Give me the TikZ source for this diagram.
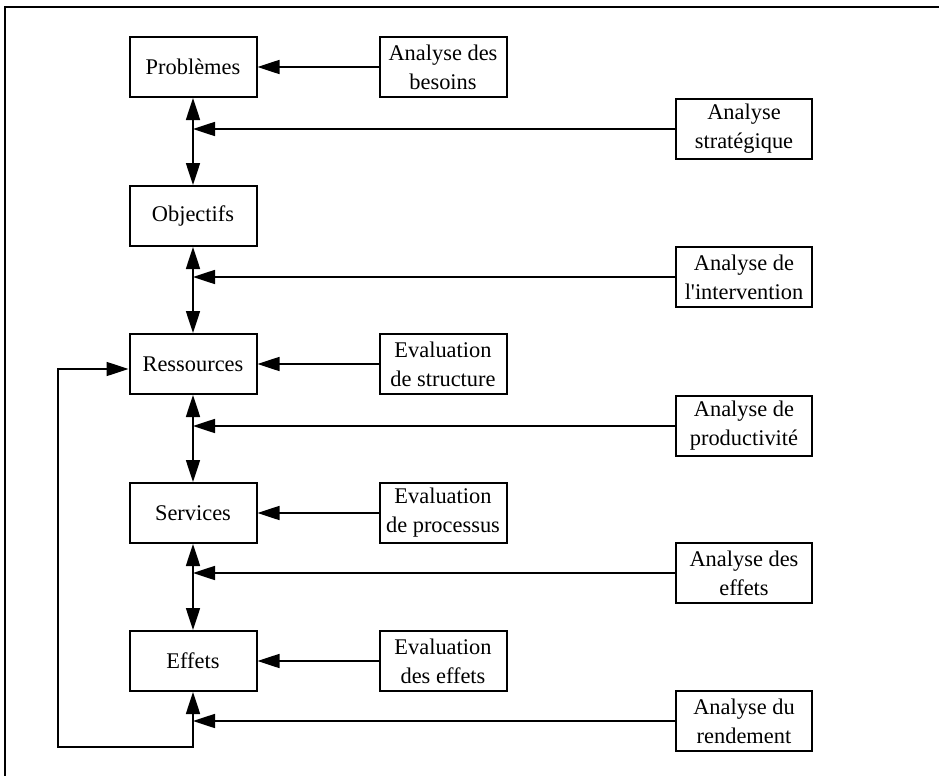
\documentclass[tikz,border=0pt]{standalone}
\usepackage{fontspec}
\setmainfont{Liberation Serif}
\usetikzlibrary{arrows.meta}

\tikzset{
  box/.style={draw, line width=1pt, minimum width=63.5pt, minimum height=30pt,
              align=center, inner sep=2pt, font=\fontsize{11.2}{14.5}\selectfont},
  anabox/.style={box, minimum width=68pt},
  flow/.style={line width=0.85pt, -{Triangle[length=11pt,width=7pt]}},
  twoway/.style={line width=0.85pt, {Triangle[length=11pt,width=7pt]}-{Triangle[length=11pt,width=7pt]}}
}

\begin{document}
\begin{tikzpicture}[x=0.5pt, y=-0.5pt]
    \useasboundingbox (0,0) rectangle (939,776);
    \begin{scope}
        \clip (0,0) rectangle (939,776);
        \draw[line width=1pt] (5,7) rectangle (960,800);
    \end{scope}

    % chain on the left
    \node[box] (prob) at (193,67)  {Problèmes};
    \node[box] (obj)  at (193,216) {Objectifs};
    \node[box] (res)  at (193,364) {Ressources};
    \node[box] (serv) at (193,513) {Services};
    \node[box] (eff)  at (193,661) {Effets};

    % middle column
    \node[box] (besoins) at (443,67)  {Analyse des\\besoins};
    \node[box] (struct)  at (443,364) {Evaluation\\de structure};
    \node[box] (proc)    at (443,513) {Evaluation\\de processus};
    \node[box] (eeff)    at (443,661) {Evaluation\\des effets};

    % right column
    \node[anabox] (strat)  at (744,129) {Analyse\\stratégique};
    \node[anabox] (interv) at (744,277) {Analyse de\\l\textquotesingle intervention};
    \node[anabox] (prod)   at (744,426) {Analyse de\\productivité};
    \node[anabox] (aeff)   at (744,573) {Analyse des\\effets};
    \node[anabox] (rend)   at (744,721) {Analyse du\\rendement};

    \coordinate (fb) at (58,747);

    \draw[twoway] (prob) -- (obj);
    \draw[twoway] (obj)  -- (res);
    \draw[twoway] (res)  -- (serv);
    \draw[twoway] (serv) -- (eff);

    \draw[flow] (besoins) -- (prob);
    \draw[flow] (struct)  -- (res);
    \draw[flow] (proc)    -- (serv);
    \draw[flow] (eeff)    -- (eff);

    \draw[flow] (strat.west)  -- (strat.west -| prob.south);
    \draw[flow] (interv.west) -- (interv.west -| prob.south);
    \draw[flow] (prod.west)   -- (prod.west -| prob.south);
    \draw[flow] (aeff.west)   -- (aeff.west -| prob.south);
    \draw[flow] (rend.west)   -- (rend.west -| prob.south);

    % feedback loop
    \draw[twoway] ([yshift=-2.5pt]res.west) -| (fb) -| (eff.south);
\end{tikzpicture}
\end{document}
